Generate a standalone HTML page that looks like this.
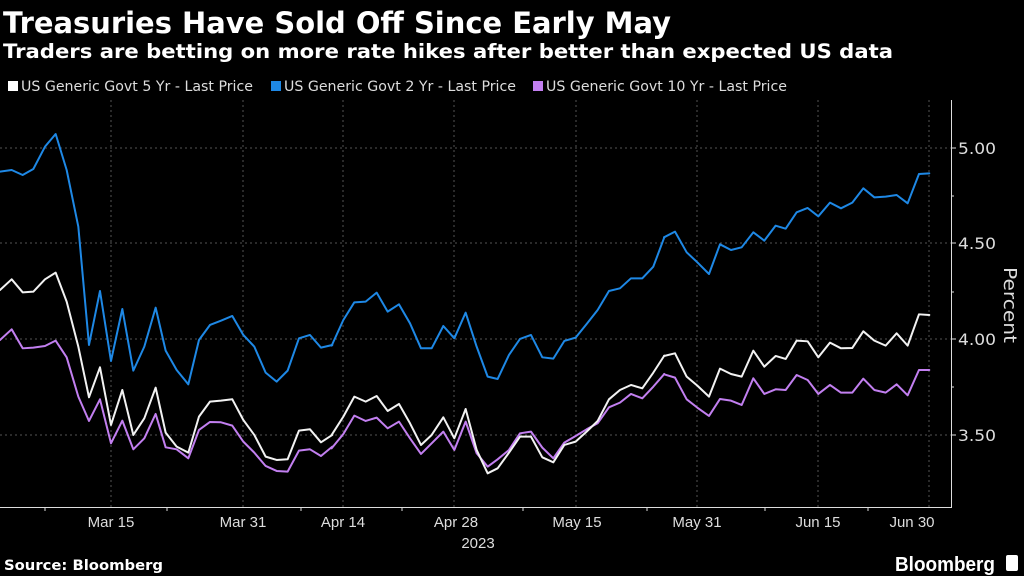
<!DOCTYPE html>
<html><head><meta charset="utf-8"><style>
html,body{margin:0;padding:0;background:#000;}
body{width:1024px;height:576px;overflow:hidden;position:relative;font-family:"Liberation Sans","DejaVu Sans",sans-serif;color:#fff;}
svg{position:absolute;left:0;top:0;}
</style></head><body>
<svg width="1024" height="576" viewBox="0 0 1024 576">
<rect width="1024" height="576" fill="#000"/>
<text x="3" y="33" font-family="DejaVu Sans,sans-serif" font-weight="bold" font-size="29" fill="#fff" textLength="668" lengthAdjust="spacingAndGlyphs">Treasuries Have Sold Off Since Early May</text>
<text x="3" y="58" font-family="DejaVu Sans,sans-serif" font-weight="bold" font-size="19.5" fill="#fff" textLength="890" lengthAdjust="spacingAndGlyphs">Traders are betting on more rate hikes after better than expected US data</text>
<g font-family="DejaVu Sans,sans-serif" font-size="14" fill="#ddd">
<rect x="8" y="81" width="10" height="10" fill="#fff"/><text x="21" y="91" textLength="232" lengthAdjust="spacingAndGlyphs">US Generic Govt 5 Yr - Last Price</text>
<rect x="271" y="81" width="10" height="10" fill="#1e88e5"/><text x="284" y="91" textLength="232" lengthAdjust="spacingAndGlyphs">US Generic Govt 2 Yr - Last Price</text>
<rect x="533" y="81" width="10" height="10" fill="#c27ff0"/><text x="546" y="91" textLength="241" lengthAdjust="spacingAndGlyphs">US Generic Govt 10 Yr - Last Price</text>
</g>
<g stroke="#555" stroke-width="1" stroke-dasharray="2,3">
<line x1="0" y1="148" x2="951" y2="148"/><line x1="0" y1="243" x2="951" y2="243"/><line x1="0" y1="339" x2="951" y2="339"/><line x1="0" y1="435" x2="951" y2="435"/>
<line x1="111" y1="100" x2="111" y2="507"/><line x1="243" y1="100" x2="243" y2="507"/><line x1="343" y1="100" x2="343" y2="507"/><line x1="454" y1="100" x2="454" y2="507"/><line x1="576" y1="100" x2="576" y2="507"/><line x1="697" y1="100" x2="697" y2="507"/><line x1="818" y1="100" x2="818" y2="507"/><line x1="929" y1="100" x2="929" y2="507"/>
</g>
<g stroke="#ddd" stroke-width="1">
<line x1="951.5" y1="100" x2="951.5" y2="507.5"/><line x1="0" y1="507.5" x2="952" y2="507.5"/>
<line x1="951" y1="148" x2="956" y2="148"/><line x1="951" y1="243" x2="956" y2="243"/><line x1="951" y1="339" x2="956" y2="339"/><line x1="951" y1="435" x2="956" y2="435"/>
<line x1="951" y1="196" x2="954" y2="196"/><line x1="951" y1="292" x2="954" y2="292"/><line x1="951" y1="387" x2="954" y2="387"/>
<line x1="45" y1="507" x2="45" y2="511"/><line x1="167" y1="507" x2="167" y2="511"/><line x1="301" y1="507" x2="301" y2="511"/><line x1="402" y1="507" x2="402" y2="511"/><line x1="523" y1="507" x2="523" y2="511"/><line x1="647" y1="507" x2="647" y2="511"/><line x1="765" y1="507" x2="765" y2="511"/><line x1="868" y1="507" x2="868" y2="511"/>
</g>
<g font-family="DejaVu Sans,sans-serif" font-size="16" fill="#ddd">
<text x="958" y="154" textLength="38" lengthAdjust="spacingAndGlyphs">5.00</text><text x="958" y="249" textLength="38" lengthAdjust="spacingAndGlyphs">4.50</text><text x="958" y="345" textLength="38" lengthAdjust="spacingAndGlyphs">4.00</text><text x="958" y="441" textLength="38" lengthAdjust="spacingAndGlyphs">3.50</text>
<text transform="translate(1004,305) rotate(90)" text-anchor="middle" font-size="18" textLength="76" lengthAdjust="spacingAndGlyphs">Percent</text>
</g>
<g font-family="Liberation Sans,sans-serif" font-size="15" fill="#ddd" text-anchor="middle">
<text x="111" y="527">Mar 15</text><text x="243" y="527">Mar 31</text><text x="343" y="527">Apr 14</text><text x="456" y="527">Apr 28</text><text x="577" y="527">May 15</text><text x="697" y="527">May 31</text><text x="818" y="527">Jun 15</text><text x="912" y="527">Jun 30</text>
<text x="478" y="548">2023</text>
</g>
<text x="4" y="570" font-family="DejaVu Sans,sans-serif" font-weight="bold" font-size="14" fill="#fff" textLength="159" lengthAdjust="spacingAndGlyphs">Source: Bloomberg</text>
<text x="895" y="571" font-family="Liberation Sans,sans-serif" font-weight="bold" font-size="20" fill="#fff" textLength="100" lengthAdjust="spacingAndGlyphs">Bloomberg</text>
<rect x="1006" y="555" width="12" height="16" rx="2" fill="#fff"/>
<g fill="none" stroke-width="6" stroke-linejoin="round" stroke-linecap="round">
<g transform="translate(0,120) scale(0.3333)">
<polyline stroke="#1e88e5" points="0,155 35,150 68,165 100,147 135,80 167,42 200,150 235,320 267,675 300,513 333,723 367,567 400,752 433,680 467,563 497,692 530,750 565,793 597,660 630,615 663,602 697,588 730,645 763,680 797,758 830,785 863,752 897,655 930,645 963,683 997,675"/>
<polyline stroke="#f2f2f2" points="0,510 35,478 68,517 100,515 135,478 167,458 200,545 235,680 267,832 300,742 333,915 367,810 400,945 433,895 467,803 497,938 530,980 565,998 597,890 630,845 663,842 697,838 730,900 763,945 797,1010 830,1020 863,1018 897,932 930,928 963,967 997,945"/>
<polyline stroke="#c27ff0" points="0,660 35,628 68,685 100,683 135,678 167,662 200,712 235,830 267,903 300,838 333,970 367,902 400,988 433,955 467,882 497,982 530,988 565,1015 597,930 630,906 663,907 697,917 730,965 763,998 797,1038 830,1053 863,1055 897,992 930,988 963,1008 997,980"/>
</g>
<g transform="translate(330,120) scale(0.3333)">
<polyline stroke="#1e88e5" points="5,677 40,600 73,547 107,545 140,518 173,575 207,553 240,610 273,685 305,685 340,618 373,655 407,578 440,680 473,770 503,777 537,705 570,657 603,645 637,712 670,716 703,663 737,653 770,612 803,570 837,513 870,505 903,475 937,475 970,440 1003,352"/>
<polyline stroke="#c27ff0" points="5,985 40,942 73,887 107,903 140,893 173,925 207,905 240,955 273,1002 305,970 340,935 373,990 407,905 440,1000 473,1040 503,1018 537,990 570,940 603,935 637,983 670,1015 703,968 737,948 770,928 803,910 837,862 870,848 903,822 937,835 970,800 1003,762"/>
<polyline stroke="#f2f2f2" points="5,945 40,890 73,830 107,845 140,828 173,873 207,852 240,910 273,975 305,945 340,892 373,955 407,867 440,990 473,1060 503,1045 537,998 570,950 603,950 637,1012 670,1027 703,975 737,965 770,935 803,903 837,838 870,810 903,795 937,805 970,758 1003,707"/>
</g>
<g transform="translate(660,120) scale(0.3333)">
<polyline stroke="#1e88e5" points="12,352 45,335 80,397 112,427 147,462 180,373 213,390 245,382 280,337 313,362 347,317 377,326 410,277 443,264 475,289 510,248 543,265 577,248 610,205 643,232 677,230 710,225 743,250 777,162 808,160"/>
<polyline stroke="#f2f2f2" points="12,708 45,700 80,770 112,797 147,830 180,746 213,762 245,770 280,692 313,740 347,708 377,717 410,662 443,664 475,712 510,668 543,685 577,684 610,634 643,662 677,677 710,640 743,677 777,583 808,585"/>
<polyline stroke="#c27ff0" points="12,763 45,773 80,838 112,863 147,888 180,837 213,842 245,855 280,775 313,822 347,808 377,810 410,765 443,780 475,822 510,795 543,818 577,818 610,776 643,810 677,818 710,793 743,826 777,750 808,750"/>
</g>
</g>
</svg>
</body></html>
